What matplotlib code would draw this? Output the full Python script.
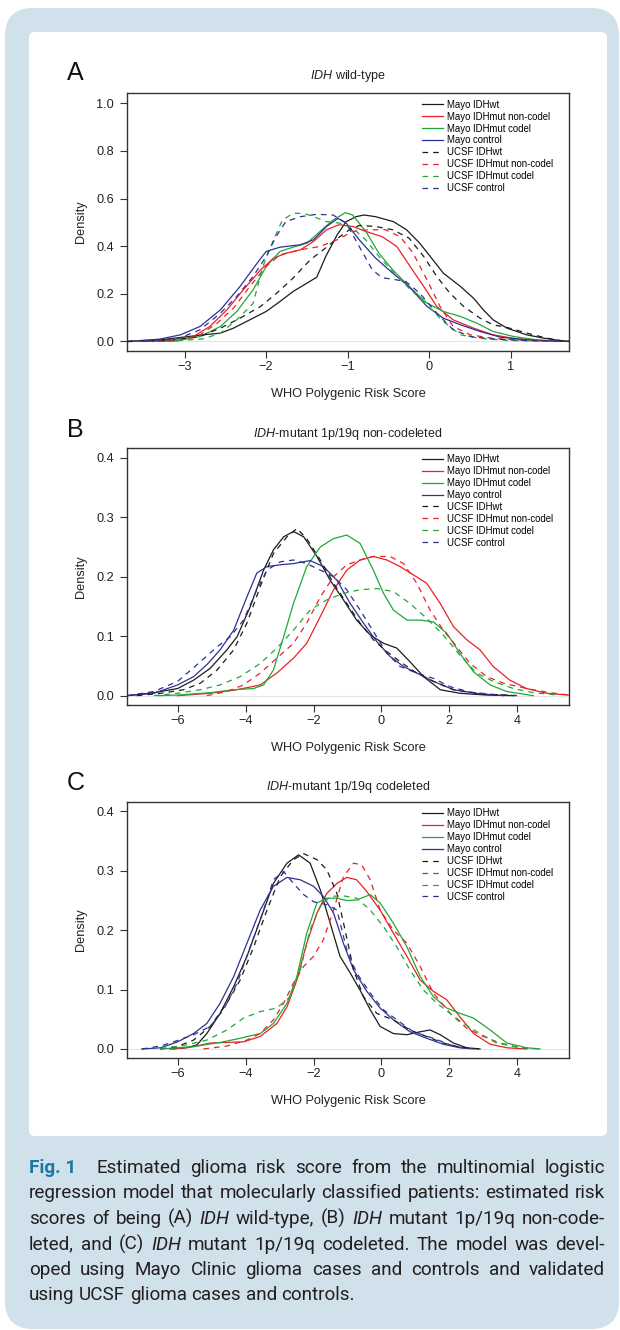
"""Density curves of the WHO polygenic risk score, three panels plus caption."""

import matplotlib

matplotlib.use("Agg")

import matplotlib.pyplot as plt
from matplotlib.patches import FancyBboxPatch
from matplotlib.transforms import IdentityTransform


FIG_W = 620
FIG_H = 1330

SERIES_LABELS = [
    "Mayo IDHwt",
    "Mayo IDHmut non-codel",
    "Mayo IDHmut codel",
    "Mayo control",
    "UCSF IDHwt",
    "UCSF IDHmut non-codel",
    "UCSF IDHmut codel",
    "UCSF control",
]

# ---- panel A: IDH wild-type ----
a_mayo_wt_x = [-3.7, -3.3, -2.97, -2.77, -2.56, -2.4, -2.24, -2.0, -1.83, -1.67, -1.5, -1.38, -1.27, -1.13, -1.02, -0.9, -0.8, -0.66, -0.44, -0.28, -0.12, 0.01, 0.17, 0.38, 0.54, 0.66, 0.78, 0.95, 1.19, 1.4, 1.6, 1.71]
a_mayo_wt_y = [0.0, 0.007, 0.02, 0.028, 0.035, 0.056, 0.084, 0.126, 0.168, 0.21, 0.245, 0.27, 0.357, 0.448, 0.503, 0.524, 0.531, 0.524, 0.503, 0.469, 0.413, 0.357, 0.287, 0.231, 0.182, 0.133, 0.091, 0.056, 0.028, 0.014, 0.004, 0.001]
a_mayo_nc_x = [-3.7, -3.09, -2.89, -2.69, -2.48, -2.28, -2.07, -1.91, -1.75, -1.58, -1.42, -1.26, -1.11, -0.94, -0.78, -0.58, -0.4, -0.25, -0.07, 0.09, 0.29, 0.54, 0.78, 1.03, 1.31, 1.6, 1.71]
a_mayo_nc_y = [0.0, 0.003, 0.021, 0.063, 0.133, 0.217, 0.3, 0.35, 0.371, 0.385, 0.42, 0.469, 0.49, 0.483, 0.462, 0.44, 0.399, 0.322, 0.231, 0.147, 0.091, 0.056, 0.028, 0.013, 0.004, 0.001, 0.0]
a_mayo_cd_x = [-3.7, -3.09, -2.81, -2.56, -2.36, -2.16, -2.0, -1.83, -1.67, -1.5, -1.34, -1.18, -1.03, -0.94, -0.78, -0.62, -0.45, -0.25, -0.03, 0.17, 0.38, 0.58, 0.78, 1.03, 1.31, 1.6, 1.71]
a_mayo_cd_y = [0.0, 0.003, 0.021, 0.063, 0.126, 0.217, 0.315, 0.378, 0.396, 0.413, 0.462, 0.51, 0.541, 0.531, 0.462, 0.371, 0.301, 0.231, 0.161, 0.126, 0.105, 0.077, 0.042, 0.021, 0.007, 0.001, 0.0]
a_mayo_ct_x = [-3.7, -3.3, -3.05, -2.81, -2.56, -2.32, -2.11, -2.0, -1.83, -1.58, -1.42, -1.26, -1.12, -1.02, -0.86, -0.66, -0.45, -0.25, -0.03, 0.17, 0.38, 0.62, 0.87, 1.19, 1.6, 1.71]
a_mayo_ct_y = [0.0, 0.01, 0.028, 0.063, 0.133, 0.231, 0.329, 0.378, 0.396, 0.406, 0.427, 0.483, 0.517, 0.497, 0.427, 0.35, 0.287, 0.231, 0.147, 0.098, 0.07, 0.042, 0.018, 0.007, 0.001, 0.0]
a_ucsf_wt_x = [-3.7, -3.2, -2.81, -2.56, -2.32, -2.07, -1.87, -1.67, -1.46, -1.3, -1.15, -0.98, -0.86, -0.66, -0.45, -0.25, -0.07, 0.09, 0.25, 0.42, 0.62, 0.78, 0.95, 1.27, 1.44, 1.6, 1.71]
a_ucsf_wt_y = [0.0, 0.004, 0.021, 0.056, 0.098, 0.147, 0.203, 0.266, 0.343, 0.385, 0.427, 0.469, 0.487, 0.483, 0.469, 0.434, 0.357, 0.273, 0.203, 0.147, 0.098, 0.07, 0.059, 0.028, 0.014, 0.004, 0.001]
a_ucsf_nc_x = [-3.6, -3.09, -2.81, -2.6, -2.4, -2.2, -2.0, -1.83, -1.58, -1.34, -1.13, -0.94, -0.74, -0.54, -0.36, -0.2, -0.03, 0.13, 0.29, 0.5, 0.78, 1.19, 1.52]
a_ucsf_nc_y = [0.0, 0.003, 0.028, 0.077, 0.14, 0.231, 0.315, 0.364, 0.385, 0.399, 0.427, 0.462, 0.469, 0.469, 0.44, 0.371, 0.259, 0.147, 0.063, 0.028, 0.013, 0.004, 0.001]
a_ucsf_cd_x = [-3.09, -2.77, -2.56, -2.36, -2.16, -2.04, -1.91, -1.8, -1.67, -1.54, -1.42, -1.26, -1.1, -0.94, -0.78, -0.62, -0.45, -0.25, -0.03, 0.17, 0.38, 0.62, 0.99, 1.4]
a_ucsf_cd_y = [0.003, 0.011, 0.035, 0.091, 0.16, 0.315, 0.427, 0.51, 0.538, 0.538, 0.524, 0.503, 0.497, 0.476, 0.427, 0.357, 0.294, 0.224, 0.154, 0.084, 0.028, 0.013, 0.004, 0.001]
a_ucsf_ct_x = [-3.5, -3.09, -2.81, -2.56, -2.36, -2.16, -2.0, -1.88, -1.76, -1.58, -1.38, -1.18, -1.02, -0.86, -0.7, -0.58, -0.41, -0.29, -0.12, 0.09, 0.29, 0.5, 0.78, 1.19, 1.6]
a_ucsf_ct_y = [0.001, 0.01, 0.049, 0.119, 0.189, 0.273, 0.357, 0.44, 0.503, 0.524, 0.534, 0.531, 0.497, 0.399, 0.301, 0.268, 0.259, 0.252, 0.203, 0.119, 0.049, 0.021, 0.01, 0.004, 0.001]

# ---- panel B: IDH-mutant 1p/19q non-codeleted ----
b_mayo_wt_x = [-7.49, -6.7, -6.0, -5.53, -5.04, -4.55, -4.25, -3.86, -3.47, -3.18, -2.88, -2.59, -2.29, -1.9, -1.51, -1.12, -0.73, -0.33, 0.06, 0.45, 0.84, 1.24, 1.73, 2.31, 3.1, 3.88]
b_mayo_wt_y = [0.0, 0.005, 0.012, 0.026, 0.046, 0.077, 0.099, 0.15, 0.211, 0.245, 0.267, 0.276, 0.267, 0.234, 0.194, 0.161, 0.127, 0.102, 0.088, 0.08, 0.057, 0.032, 0.01, 0.004, 0.001, 0.0]
b_mayo_nc_x = [-6.0, -5.04, -4.25, -3.57, -3.08, -2.59, -2.2, -1.8, -1.41, -1.02, -0.63, -0.24, 0.16, 0.55, 0.94, 1.33, 1.73, 2.12, 2.51, 2.9, 3.29, 3.78, 4.27, 4.86, 5.52]
b_mayo_nc_y = [0.0, 0.004, 0.01, 0.018, 0.038, 0.063, 0.088, 0.133, 0.178, 0.211, 0.228, 0.234, 0.228, 0.217, 0.203, 0.189, 0.155, 0.116, 0.094, 0.077, 0.049, 0.026, 0.012, 0.004, 0.001]
b_mayo_cd_x = [-6.6, -6.0, -5.04, -4.35, -3.76, -3.47, -3.18, -2.88, -2.59, -2.2, -1.8, -1.41, -1.02, -0.63, -0.24, 0.06, 0.35, 0.75, 1.14, 1.53, 1.92, 2.31, 2.71, 3.2, 3.69, 4.47]
b_mayo_cd_y = [0.0, 0.001, 0.005, 0.01, 0.012, 0.018, 0.043, 0.099, 0.155, 0.217, 0.25, 0.264, 0.27, 0.256, 0.211, 0.172, 0.144, 0.127, 0.127, 0.124, 0.105, 0.071, 0.04, 0.018, 0.007, 0.0]
b_mayo_ct_x = [-7.49, -6.7, -6.0, -5.53, -5.14, -4.75, -4.35, -3.96, -3.67, -3.37, -2.98, -2.59, -2.1, -1.71, -1.31, -0.92, -0.53, -0.14, 0.25, 0.65, 1.04, 1.53, 2.12, 2.9, 3.59]
b_mayo_ct_y = [0.0, 0.004, 0.018, 0.032, 0.052, 0.077, 0.11, 0.166, 0.206, 0.217, 0.22, 0.222, 0.227, 0.217, 0.194, 0.155, 0.122, 0.091, 0.066, 0.049, 0.038, 0.024, 0.01, 0.003, 0.0]
b_ucsf_wt_x = [-7.2, -6.5, -5.82, -5.33, -4.84, -4.35, -3.96, -3.57, -3.18, -2.78, -2.49, -2.2, -1.8, -1.41, -1.02, -0.63, -0.24, 0.16, 0.55, 1.04, 1.53, 2.12, 2.9, 3.98]
b_ucsf_wt_y = [0.0, 0.004, 0.01, 0.021, 0.043, 0.077, 0.122, 0.183, 0.239, 0.267, 0.281, 0.264, 0.228, 0.189, 0.155, 0.122, 0.094, 0.074, 0.057, 0.038, 0.024, 0.01, 0.003, 0.0]
b_ucsf_nc_x = [-5.14, -4.55, -4.06, -3.57, -3.08, -2.59, -2.2, -1.8, -1.41, -1.02, -0.63, -0.24, 0.25, 0.65, 1.04, 1.43, 1.82, 2.22, 2.61, 3.1, 3.59, 4.27, 4.96, 5.52]
b_ucsf_nc_y = [0.0, 0.007, 0.018, 0.038, 0.063, 0.088, 0.122, 0.166, 0.2, 0.22, 0.228, 0.234, 0.234, 0.222, 0.189, 0.144, 0.11, 0.082, 0.054, 0.032, 0.021, 0.012, 0.005, 0.001]
b_ucsf_cd_x = [-6.7, -6.0, -5.33, -4.75, -4.16, -3.57, -3.08, -2.59, -2.1, -1.61, -1.12, -0.63, -0.14, 0.35, 0.84, 1.33, 1.82, 2.31, 2.8, 3.29, 3.88, 4.47, 5.2]
b_ucsf_cd_y = [0.0, 0.004, 0.01, 0.018, 0.032, 0.054, 0.08, 0.11, 0.144, 0.161, 0.172, 0.178, 0.18, 0.175, 0.155, 0.13, 0.102, 0.068, 0.038, 0.024, 0.012, 0.005, 0.001]
b_ucsf_ct_x = [-7.49, -6.7, -6.0, -5.33, -4.84, -4.45, -4.06, -3.67, -3.37, -2.98, -2.59, -2.2, -1.8, -1.41, -1.02, -0.63, -0.24, 0.16, 0.55, 1.04, 1.53, 2.02, 2.61, 3.29, 4.1]
b_ucsf_ct_y = [0.0, 0.007, 0.024, 0.057, 0.082, 0.099, 0.127, 0.178, 0.211, 0.225, 0.228, 0.222, 0.211, 0.2, 0.178, 0.144, 0.108, 0.071, 0.049, 0.038, 0.029, 0.015, 0.006, 0.002, 0.0]

# ---- panel C: IDH-mutant 1p/19q codeleted ----
c_mayo_wt_x = [-6.22, -5.73, -5.43, -5.14, -4.75, -4.35, -3.96, -3.57, -3.18, -2.78, -2.44, -2.1, -1.8, -1.51, -1.22, -0.92, -0.63, -0.33, -0.04, 0.35, 0.75, 1.14, 1.43, 1.73, 2.12, 2.51, 2.9]
c_mayo_wt_y = [0.0, 0.002, 0.007, 0.026, 0.06, 0.105, 0.156, 0.217, 0.279, 0.313, 0.327, 0.313, 0.268, 0.212, 0.156, 0.128, 0.099, 0.066, 0.038, 0.026, 0.024, 0.029, 0.032, 0.024, 0.01, 0.002, 0.0]
c_mayo_nc_x = [-6.12, -5.53, -5.04, -4.55, -4.06, -3.57, -3.08, -2.78, -2.49, -2.2, -1.9, -1.61, -1.31, -1.02, -0.73, -0.43, -0.04, 0.35, 0.75, 1.14, 1.53, 1.92, 2.31, 2.71, 3.2, 3.69, 4.27]
c_mayo_nc_y = [0.0, 0.004, 0.01, 0.011, 0.012, 0.021, 0.043, 0.071, 0.116, 0.178, 0.229, 0.262, 0.279, 0.289, 0.285, 0.265, 0.234, 0.195, 0.156, 0.116, 0.097, 0.083, 0.054, 0.026, 0.008, 0.002, 0.0]
c_mayo_cd_x = [-6.5, -5.53, -4.75, -4.16, -3.57, -3.18, -2.78, -2.49, -2.2, -1.9, -1.61, -1.31, -1.02, -0.73, -0.33, -0.04, 0.35, 0.75, 1.14, 1.53, 1.92, 2.31, 2.71, 3.2, 3.69, 4.27, 4.67]
c_mayo_cd_y = [0.0, 0.004, 0.011, 0.018, 0.026, 0.043, 0.077, 0.122, 0.195, 0.246, 0.254, 0.254, 0.25, 0.251, 0.26, 0.246, 0.212, 0.172, 0.122, 0.088, 0.069, 0.06, 0.052, 0.032, 0.01, 0.002, 0.0]
c_mayo_ct_x = [-7.05, -6.5, -6.0, -5.53, -5.14, -4.75, -4.35, -3.96, -3.57, -3.18, -2.78, -2.39, -2.0, -1.71, -1.41, -1.12, -0.82, -0.43, -0.04, 0.35, 0.84, 1.33, 1.82, 2.31, 2.71]
c_mayo_ct_y = [0.0, 0.002, 0.012, 0.026, 0.043, 0.077, 0.122, 0.178, 0.234, 0.274, 0.289, 0.285, 0.274, 0.257, 0.229, 0.178, 0.133, 0.097, 0.069, 0.049, 0.029, 0.018, 0.008, 0.002, 0.0]
c_ucsf_wt_x = [-6.5, -6.02, -5.53, -5.04, -4.55, -4.16, -3.76, -3.37, -2.98, -2.59, -2.29, -1.9, -1.61, -1.31, -1.07, -0.82, -0.53, -0.14, 0.35, 0.84, 1.33, 1.82, 2.31, 2.9]
c_ucsf_wt_y = [0.0, 0.004, 0.015, 0.038, 0.077, 0.116, 0.172, 0.234, 0.29, 0.319, 0.329, 0.319, 0.302, 0.262, 0.2, 0.133, 0.088, 0.06, 0.049, 0.032, 0.021, 0.01, 0.003, 0.0]
c_ucsf_nc_x = [-5.24, -4.55, -3.96, -3.57, -3.18, -2.88, -2.59, -2.29, -2.0, -1.71, -1.41, -1.12, -0.82, -0.58, -0.33, -0.04, 0.35, 0.75, 1.14, 1.53, 2.02, 2.51, 3.0, 3.49, 4.08, 4.47]
c_ucsf_nc_y = [0.0, 0.005, 0.015, 0.026, 0.049, 0.077, 0.111, 0.139, 0.156, 0.184, 0.234, 0.29, 0.313, 0.31, 0.285, 0.234, 0.2, 0.178, 0.139, 0.094, 0.06, 0.035, 0.021, 0.01, 0.002, 0.0]
c_ucsf_cd_x = [-6.5, -5.73, -5.14, -4.55, -4.06, -3.57, -3.08, -2.69, -2.39, -2.1, -1.8, -1.51, -1.12, -0.73, -0.33, 0.06, 0.45, 0.84, 1.24, 1.63, 2.02, 2.41, 2.9, 3.39, 4.08, 4.77]
c_ucsf_cd_y = [0.0, 0.007, 0.015, 0.032, 0.052, 0.063, 0.069, 0.088, 0.133, 0.201, 0.24, 0.257, 0.258, 0.254, 0.234, 0.206, 0.172, 0.133, 0.099, 0.077, 0.06, 0.043, 0.026, 0.01, 0.002, 0.0]
c_ucsf_ct_x = [-7.05, -6.5, -6.12, -5.53, -5.04, -4.65, -4.25, -3.86, -3.47, -3.18, -2.88, -2.59, -2.29, -2.0, -1.61, -1.31, -1.02, -0.73, -0.33, 0.06, 0.45, 0.94, 1.53, 2.02, 2.51]
c_ucsf_ct_y = [0.0, 0.005, 0.012, 0.024, 0.038, 0.066, 0.111, 0.172, 0.234, 0.285, 0.299, 0.279, 0.26, 0.248, 0.243, 0.234, 0.167, 0.128, 0.094, 0.066, 0.049, 0.029, 0.018, 0.007, 0.0]

A_TICKS_X = [-3, -2, -1, 0, 1]
A_TICKS_Y = [0.0, 0.2, 0.4, 0.6, 0.8, 1.0]
BC_TICKS_X = [-6, -4, -2, 0, 2, 4]
BC_TICKS_Y = [0.0, 0.1, 0.2, 0.3, 0.4]

# "*" marks an italic word
CAPTION_LINES = [
    "Estimated glioma risk score from the multinomial logistic",
    "regression model that molecularly classified patients: estimated risk",
    "scores of being (A) *IDH wild-type, (B) *IDH mutant 1p/19q non-code-",
    "leted, and (C) *IDH mutant 1p/19q codeleted. The model was devel-",
    "oped using Mayo Clinic glioma cases and controls and validated",
    "using UCSF glioma cases and controls.",
]

COLORS = ["#1c1c1c", "#ec2027", "#1fa83a", "#2e3192"]
TEXT_COLOR = "#231f20"
PLOT_FONT = ["Liberation Sans", "DejaVu Sans"]
CAPTION_FONT = ["Roboto", "Liberation Sans", "DejaVu Sans"]


def fx(x_px):
    return x_px / FIG_W


def fy(y_px):
    return 1 - y_px / FIG_H


def draw_panel(figure, box, xlim, ylim, xticks, yticks, curves,
               letter, title, title_y, letter_y):
    left, top, right, bottom = box
    axis = figure.add_axes(
        [fx(left), fy(bottom), (right - left) / FIG_W, (bottom - top) / FIG_H]
    )

    axis.axhline(0, color="#e4e4e4", linewidth=0.8, zorder=0.5)

    handles = []
    for index, (xs, ys) in enumerate(curves):
        dashed = index >= 4
        (line,) = axis.plot(
            xs,
            ys,
            color=COLORS[index % 4],
            linewidth=0.9,
            linestyle=(0, (4.5, 4)) if dashed else "-",
            solid_joinstyle="round",
            dash_joinstyle="round",
        )
        handles.append(line)

    axis.set_xlim(*xlim)
    axis.set_ylim(*ylim)
    axis.set_xticks(xticks, [f"{t:g}".replace("-", "\u2212") for t in xticks])
    axis.set_yticks(yticks, [f"{t:.1f}" for t in yticks])

    for spine in axis.spines.values():
        spine.set_color("#333333")
        spine.set_linewidth(1.0)

    axis.tick_params(axis="both", direction="out", length=5, width=0.8,
                     color="#333333", labelsize=9.2, labelcolor="#222222")
    axis.tick_params(axis="x", pad=2.0)
    axis.tick_params(axis="y", pad=4.3)

    axis.legend(
        handles,
        SERIES_LABELS,
        loc="upper left",
        bbox_to_anchor=(0.667, 0.975),
        frameon=False,
        fontsize=6.9,
        handlelength=2.2,
        handletextpad=0.45,
        labelspacing=0.2,
        borderpad=0,
        borderaxespad=0,
    )

    center_x = (left + right) / 2
    figure.text(fx(center_x), fy(title_y), title, ha="center",
                va="baseline", fontsize=9, color="#222222")
    figure.text(fx(67), fy(letter_y), letter, ha="left", va="baseline",
                fontsize=18, color="#111111")
    figure.text(fx(center_x), fy(bottom + 46), "WHO Polygenic Risk Score",
                ha="center", va="baseline", fontsize=9.2, color="#222222")
    figure.text(fx(80.5), fy((top + bottom) / 2), "Density", ha="center",
                va="center", rotation=90, fontsize=9.2, color="#222222")


def draw_caption(figure, renderer):
    x_start = 29
    x_end = 605
    first_base = 1173
    step = 25.5
    normal = dict(family=CAPTION_FONT, fontsize=13.6, color=TEXT_COLOR)
    italic = dict(normal, style="italic")
    bold = dict(family=CAPTION_FONT, fontsize=13.6, color="#1b78a3",
                weight="bold")

    probe_a = figure.text(0, 0, "a a", **normal)
    probe_b = figure.text(0, 0, "aa", **normal)
    space = (probe_a.get_window_extent(renderer).width
             - probe_b.get_window_extent(renderer).width)
    probe_a.remove()
    probe_b.remove()

    for row, line in enumerate(CAPTION_LINES):
        words = []
        weights = []
        if row == 0:
            words.append(("Fig. 1", bold))
            weights.append(2.2)
        for token in line.split(" "):
            if token.startswith("*"):
                words.append((token[1:], italic))
            else:
                words.append((token, normal))
            weights.append(1.0)
        weights = weights[: len(words) - 1]

        baseline = first_base + step * row
        artists = [
            figure.text(0, fy(baseline), text, ha="left", va="baseline",
                        **style)
            for text, style in words
        ]
        widths = [a.get_window_extent(renderer).width for a in artists]

        if row < len(CAPTION_LINES) - 1:
            unit = (x_end - x_start - sum(widths)) / sum(weights)
        else:
            unit = space

        x_pos = x_start
        for index, artist in enumerate(artists):
            artist.set_x(fx(x_pos))
            x_pos += widths[index]
            if index < len(weights):
                x_pos += unit * weights[index]


def main():
    plt.rcParams.update(
        {
            "font.family": PLOT_FONT,
            "mathtext.fontset": "custom",
            "mathtext.rm": "Liberation Sans",
            "mathtext.it": "Liberation Sans:italic",
            "axes.unicode_minus": True,
        }
    )

    figure = plt.figure(figsize=(FIG_W / 100, FIG_H / 100), dpi=100)
    figure.patch.set_facecolor("white")

    figure.add_artist(
        FancyBboxPatch(
            (5, 1), 614, 1321,
            boxstyle="round,pad=0,rounding_size=28",
            transform=IdentityTransform(),
            facecolor="#d0e1eb",
            edgecolor="none",
            zorder=-10,
        )
    )
    figure.add_artist(
        FancyBboxPatch(
            (29, FIG_H - 1136), 578, 1104,
            boxstyle="round,pad=0,rounding_size=6",
            transform=IdentityTransform(),
            facecolor="white",
            edgecolor="none",
            zorder=-9,
        )
    )

    panel_a = [
        (a_mayo_wt_x, a_mayo_wt_y), (a_mayo_nc_x, a_mayo_nc_y),
        (a_mayo_cd_x, a_mayo_cd_y), (a_mayo_ct_x, a_mayo_ct_y),
        (a_ucsf_wt_x, a_ucsf_wt_y), (a_ucsf_nc_x, a_ucsf_nc_y),
        (a_ucsf_cd_x, a_ucsf_cd_y), (a_ucsf_ct_x, a_ucsf_ct_y),
    ]
    panel_b = [
        (b_mayo_wt_x, b_mayo_wt_y), (b_mayo_nc_x, b_mayo_nc_y),
        (b_mayo_cd_x, b_mayo_cd_y), (b_mayo_ct_x, b_mayo_ct_y),
        (b_ucsf_wt_x, b_ucsf_wt_y), (b_ucsf_nc_x, b_ucsf_nc_y),
        (b_ucsf_cd_x, b_ucsf_cd_y), (b_ucsf_ct_x, b_ucsf_ct_y),
    ]
    panel_c = [
        (c_mayo_wt_x, c_mayo_wt_y), (c_mayo_nc_x, c_mayo_nc_y),
        (c_mayo_cd_x, c_mayo_cd_y), (c_mayo_ct_x, c_mayo_ct_y),
        (c_ucsf_wt_x, c_ucsf_wt_y), (c_ucsf_nc_x, c_ucsf_nc_y),
        (c_ucsf_cd_x, c_ucsf_cd_y), (c_ucsf_ct_x, c_ucsf_ct_y),
    ]

    draw_panel(figure, (127, 93.3, 569, 351), (-3.705, 1.71), (-0.04, 1.042),
               A_TICKS_X, A_TICKS_Y, panel_a, "A",
               r"$\mathit{IDH}$ wild-type", 79.5, 80)
    draw_panel(figure, (127, 447.7, 569, 705.3), (-7.49, 5.52),
               (-0.0162, 0.4168), BC_TICKS_X, BC_TICKS_Y, panel_b, "B",
               r"$\mathit{IDH}$-mutant 1p/19q non-codeleted", 437.3, 436.7)
    draw_panel(figure, (127, 802, 569, 1058), (-7.49, 5.52),
               (-0.0152, 0.416), BC_TICKS_X, BC_TICKS_Y, panel_c, "C",
               r"$\mathit{IDH}$-mutant 1p/19q codeleted", 790, 790.5)

    renderer = figure.canvas.get_renderer()
    draw_caption(figure, renderer)

    figure.savefig("out.png", dpi=100, facecolor="white")
    plt.close(figure)


if __name__ == "__main__":
    main()
